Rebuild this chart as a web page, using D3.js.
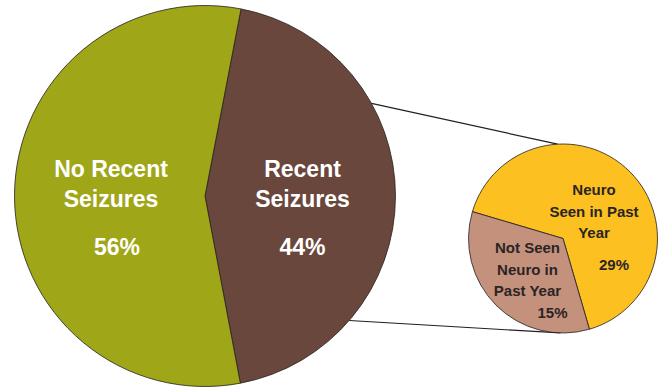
<!DOCTYPE html>
<html>
<head>
<meta charset="utf-8">
<script src="https://cdn.jsdelivr.net/npm/d3@7"></script>
<style>
  body { margin: 0; background: #fff; }
  svg { display: block; font-family: 'Liberation Sans', Arial, sans-serif; font-weight: bold; }
</style>
</head>
<body>
<div class="svg-container"></div>
<script>
//Data
const mainCategories = ['Recent Seizures', 'No Recent Seizures'];
const mainValues = [44, 56];
const mainLabels = [['Recent', 'Seizures'], ['No Recent', 'Seizures']];

const subCategories = ['Neuro Seen in Past Year', 'Not Seen Neuro in Past Year'];
const subValues = [29, 15];
const subLabels = [['Neuro', 'Seen in Past', 'Year'], ['Not Seen', 'Neuro in', 'Past Year']];

const mainColors = ['#6a473c', '#9fa617'];
const subColors = ['#fcc020', '#c4917d'];

const width = 665;
const height = 387;
const deg = Math.PI / 180;

const svg = d3.select('.svg-container')
    .append('svg')
    .attr('width', width)
    .attr('height', height);

//big pie
const big = {cx: 205, cy: 196, r: 190.5};
const bigPie = d3.pie().sort(null).startAngle(10.9 * deg).endAngle(370.9 * deg);
const bigArc = d3.arc().innerRadius(0).outerRadius(big.r);

//small pie
const small = {cx: 563, cy: 238.5, r: 94.5};
const smallPie = d3.pie().sort(null).startAngle(-73.5 * deg).endAngle(286.5 * deg);
const smallArc = d3.arc().innerRadius(0).outerRadius(small.r);

//connector lines (angles measured clockwise from top)
const pt = (c, a) => [c.cx + c.r * Math.sin(a * deg), c.cy - c.r * Math.cos(a * deg)];
const connectors = [[pt(big, 60.9), pt(small, -3.3)], [pt(big, 130.8), pt(small, 181.5)]];

svg.selectAll('.connector')
    .data(connectors)
    .enter()
    .append('line')
    .attr('class', 'connector')
    .attr('x1', d => d[0][0])
    .attr('y1', d => d[0][1])
    .attr('x2', d => d[1][0])
    .attr('y2', d => d[1][1])
    .attr('stroke', '#231f20')
    .attr('stroke-width', 1.2);

const gBig = svg.append('g')
    .attr('transform', `translate(${big.cx}, ${big.cy})`);

gBig.selectAll('path')
    .data(bigPie(mainValues))
    .enter()
    .append('path')
    .attr('d', bigArc)
    .attr('fill', (d, i) => mainColors[i])
    .attr('stroke', '#231f20')
    .attr('stroke-width', 0.8);

const gSmall = svg.append('g')
    .attr('transform', `translate(${small.cx}, ${small.cy})`);

gSmall.selectAll('path')
    .data(smallPie(subValues))
    .enter()
    .append('path')
    .attr('d', smallArc)
    .attr('fill', (d, i) => subColors[i])
    .attr('stroke', '#231f20')
    .attr('stroke-width', 0.8);

//labels for big pie
const bigLabelPos = [{x: 302.5, y: 177}, {x: 111, y: 177}];
const bigPctPos = [{x: 302.5, y: 255}, {x: 117, y: 255}];

mainLabels.forEach((lines, i) => {
    const t = svg.append('text')
        .attr('text-anchor', 'middle')
        .attr('fill', '#fff')
        .attr('font-size', 23);
    lines.forEach((s, j) => {
        t.append('tspan')
            .attr('x', bigLabelPos[i].x)
            .attr('y', bigLabelPos[i].y + j * 30)
            .text(s);
    });
    svg.append('text')
        .attr('x', bigPctPos[i].x)
        .attr('y', bigPctPos[i].y)
        .attr('text-anchor', 'middle')
        .attr('fill', '#fff')
        .attr('font-size', 23)
        .text(mainValues[i] + '%');
});

//labels for small pie
const subLabelPos = [{x: 594, y: 195}, {x: 527.5, y: 253}];
const subPctPos = [{x: 614, y: 270}, {x: 552.5, y: 318}];

subLabels.forEach((lines, i) => {
    const t = svg.append('text')
        .attr('text-anchor', 'middle')
        .attr('fill', '#2b2424')
        .attr('font-size', 15);
    lines.forEach((s, j) => {
        t.append('tspan')
            .attr('x', subLabelPos[i].x)
            .attr('y', subLabelPos[i].y + j * 21.5)
            .text(s);
    });
    svg.append('text')
        .attr('x', subPctPos[i].x)
        .attr('y', subPctPos[i].y)
        .attr('text-anchor', 'middle')
        .attr('fill', '#2b2424')
        .attr('font-size', 15)
        .text(subValues[i] + '%');
});
</script>
</body>
</html>
